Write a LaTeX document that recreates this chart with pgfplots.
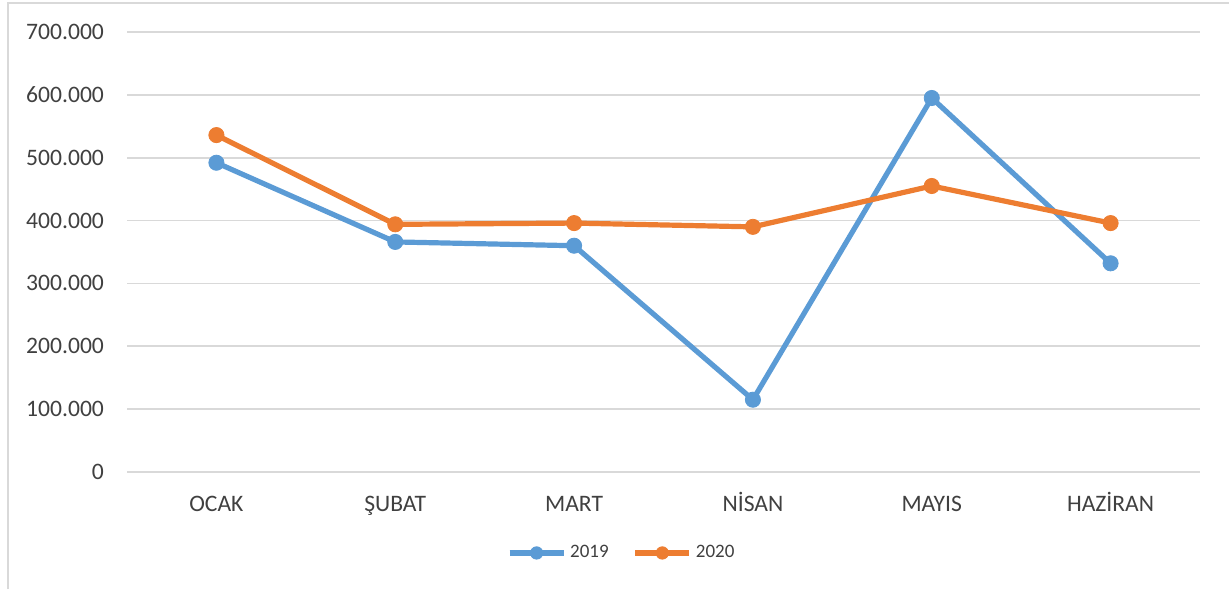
\documentclass[border=0pt]{standalone}
\usepackage{fontspec}
\setmainfont{Carlito}
\usepackage{pgfplots}
\pgfplotsset{compat=1.18}
\definecolor{s2019}{HTML}{5B9BD5}
\definecolor{s2020}{HTML}{ED7D31}
\definecolor{txt}{HTML}{404040}
\definecolor{grd}{HTML}{D9D9D9}
\begin{document}
\begin{tikzpicture}
\useasboundingbox (0,0) rectangle (614.5pt,294.5pt);
\draw[grd,line width=0.8pt] (4pt,0) -- (4pt,293pt) -- (614.5pt,293pt);
\begin{axis}[
at={(63.5pt,58.5pt)},anchor=south west,
scale only axis,width=536.5pt,height=220pt,
xmin=-0.5,xmax=5.5,ymin=0,ymax=700000,
xtick=data,
xticklabels={OCAK,ŞUBAT,MART,NİSAN,MAYIS,HAZİRAN},
ytick={0,100000,...,700000},
scaled y ticks=false,
/pgf/number format/.cd,fixed,1000 sep={.},assume math mode=true,
/pgfplots/.cd,
axis line style={draw=none},
major tick length=0pt,
ymajorgrids=true,
major grid style={grd,line width=0.8pt},
tick label style={font=\fontsize{11.8}{13}\selectfont,text=txt},
xticklabel style={anchor=base,yshift=-19.5pt},
yticklabel style={xshift=-8pt},
legend style={at={(0.462,-0.184)},anchor=center,draw=none,legend columns=2,
  font=\fontsize{9.5}{11}\selectfont,text=txt,
  /tikz/every even column/.append style={column sep=10pt}},
legend image code/.code={
  \draw[#1,mark=none] (0pt,0pt) -- (27pt,0pt);
  \draw[#1,only marks,mark size=3.1pt] plot coordinates {(13.5pt,0pt)};
},
every axis plot/.append style={line width=2.6pt,mark=*,mark size=3.8pt},
]
\addplot[s2019,mark options={fill=s2019,draw=s2019,line width=0.4pt}] coordinates {(0,492000) (1,366000) (2,360000) (3,115000) (4,595000) (5,332000)};
\addlegendentry{2019}
\addplot[s2020,mark options={fill=s2020,draw=s2020,line width=0.4pt}] coordinates {(0,536000) (1,394000) (2,396000) (3,390000) (4,455000) (5,396000)};
\addlegendentry{2020}
\end{axis}
\end{tikzpicture}
\end{document}
